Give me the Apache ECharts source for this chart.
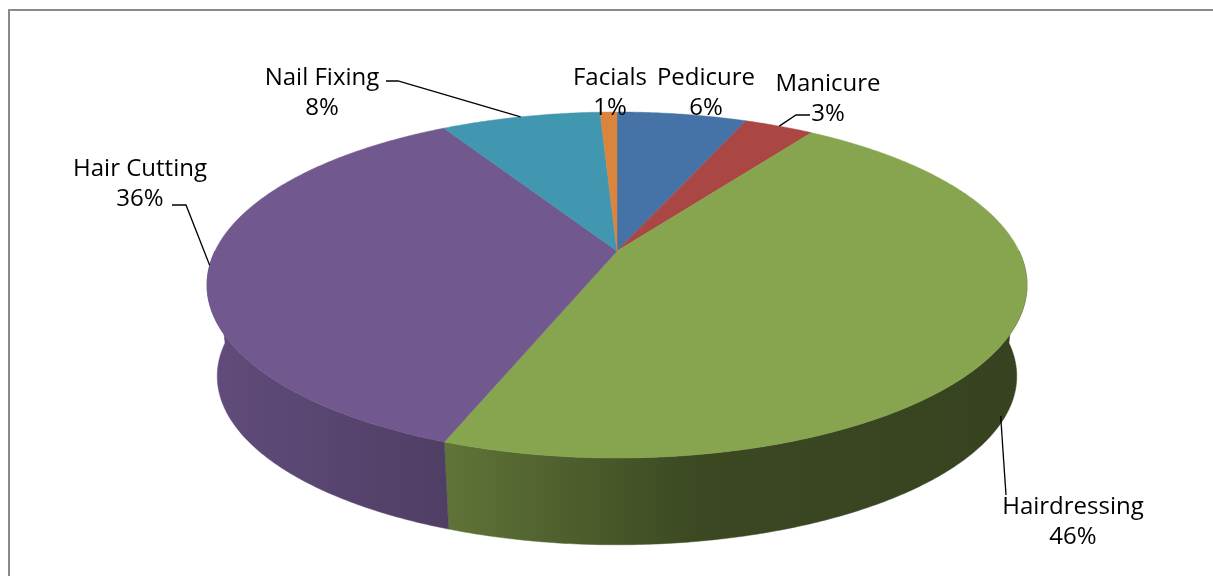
<!DOCTYPE html>
<html><head><meta charset="utf-8">
<script src="https://cdn.jsdelivr.net/npm/echarts@6/dist/echarts.min.js"></script>
<style>html,body{margin:0;padding:0;background:#fff}#c{width:1213px;height:576px}</style>
</head><body><div id="c"></div>
<script>
// ---- data ----
const categories = ['Pedicure', 'Manicure', 'Hairdressing', 'Hair Cutting', 'Nail Fixing', 'Facials'];
const values = [6.2, 3.3, 46.2, 35.9, 7.6, 0.8];

// ---- style / layout ----
const colors = ['#4572A7', '#AA4643', '#87A44E', '#71588F', '#4097AF', '#DB843D'];
const labelCenters = [[706, 93], [828, 99], [1073, 522], [140, 184], [322, 93], [610, 93]];
const leaderElbows = [null, [[796, 115], [810, 115]], [[1006, 495]], [[186, 205], [172, 205]], [[398, 81], [386, 81]], null];
const leaderDepth = [0, 0, 0.9, 0, 0, 0];

const CX = 617, CY = 251, A = 402, B = 166.3, P = 0.1965, H = 92, S = 0.975;

const total = values.reduce((s, v) => s + v, 0);
const starts = []; { let acc = 0; values.forEach(v => { starts.push(acc); acc += v; }); }

function proj(deg, depth) {
  const t = deg * Math.PI / 180, d = 1 + P * Math.cos(t);
  const x = A * Math.sin(t) / d, y = -B * Math.cos(t) / d;
  const s = 1 + (S - 1) * depth;
  return [CX + x * s, CY + y * s + H * depth];
}
function arc(a0, a1, depth) {
  const pts = [], n = Math.max(2, Math.ceil((a1 - a0) / 0.5));
  for (let k = 0; k <= n; k++) pts.push(proj(a0 + (a1 - a0) * k / n, depth));
  return pts;
}
function shade(hex, f) {
  const n = parseInt(hex.slice(1), 16);
  const r = Math.round(((n >> 16) & 255) * f), g = Math.round(((n >> 8) & 255) * f), b = Math.round((n & 255) * f);
  return 'rgb(' + r + ',' + g + ',' + b + ')';
}
function wallFill(hex) {
  return new echarts.graphic.LinearGradient(CX - A * 1.02, 0, CX + A * 1.02, 0, [
    { offset: 0, color: shade(hex, 0.86) },
    { offset: 0.3, color: shade(hex, 0.70) },
    { offset: 0.6, color: shade(hex, 0.44) },
    { offset: 1, color: shade(hex, 0.41) }
  ], true);
}

const chart = echarts.init(document.getElementById('c'), null, { renderer: 'canvas' });
chart.setOption({
  animation: false,
  backgroundColor: '#ffffff',
  graphic: [{
    type: 'rect', shape: { x: 9, y: 10, width: 1400, height: 800 },
    style: { fill: 'none', stroke: '#8a8a8a', lineWidth: 2 }, silent: true
  }],
  series: [{
    type: 'custom',
    coordinateSystem: 'none',
    data: values.map((v, i) => ({ name: categories[i], value: v })),
    renderItem: function (params, api) {
      const i = params.dataIndex, v = api.value(0);
      const a0 = starts[i] / total * 360, a1 = (starts[i] + v) / total * 360;
      const children = [];
      const lo = Math.max(a0, 90), hi = Math.min(a1, 270);
      if (lo < hi) {
        const top = arc(lo, hi, 0), bot = arc(lo, hi, 1).reverse();
        children.push({ type: 'polygon', z2: 1, shape: { points: top.concat(bot) },
          style: { fill: wallFill(colors[i]), stroke: wallFill(colors[i]), lineWidth: 0.5 } });
      }
      children.push({ type: 'polygon', z2: 2, shape: { points: [[CX, CY]].concat(arc(a0, a1, 0)) },
        style: { fill: colors[i], stroke: colors[i], lineWidth: 0.5 } });
      const mid = (a0 + a1) / 2;
      if (leaderElbows[i]) {
        const pt = [proj(mid, leaderDepth[i])].concat(leaderElbows[i]);
        children.push({ type: 'polyline', z2: 3, shape: { points: pt },
          style: { stroke: '#000', lineWidth: 1.3, fill: 'none' } });
      }
      const pct = Math.round(v / total * 100) + '%';
      children.push({ type: 'text', z2: 4, x: labelCenters[i][0], y: labelCenters[i][1],
        style: { text: categories[i] + '\n' + pct, align: 'center', verticalAlign: 'middle',
          font: '24px "Open Sans"', lineHeight: 30, fill: '#000' } });
      return { type: 'group', children: children };
    }
  }]
});
</script>
</body></html>
